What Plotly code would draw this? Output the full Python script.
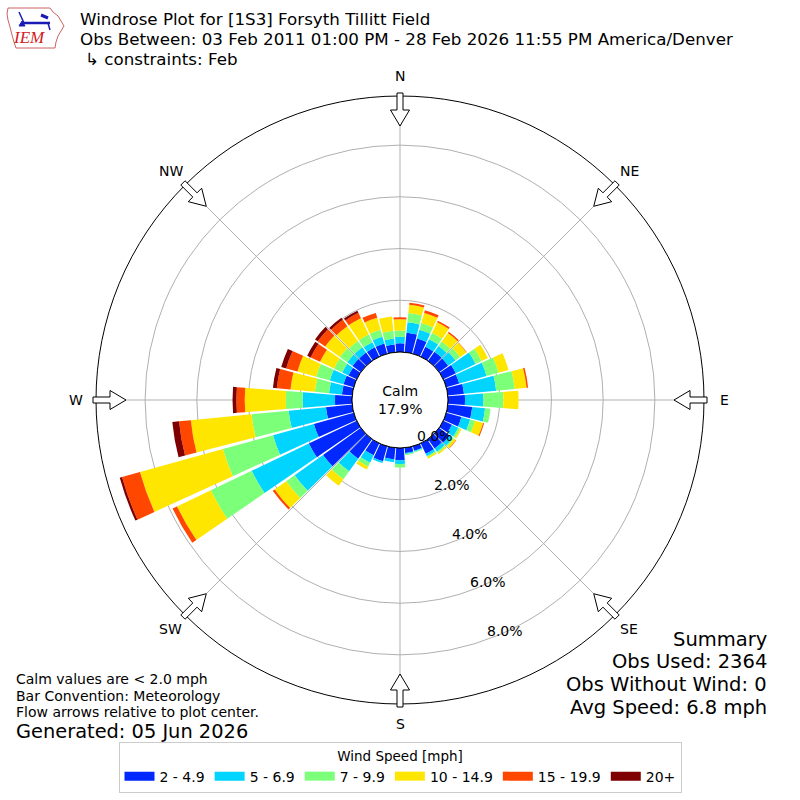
import numpy as np
import plotly.graph_objects as go

# wind direction bins (deg, meteorological convention) and speed classes
directions = list(range(0, 360, 10))
speed_bins = ["2 - 4.9", "5 - 6.9", "7 - 9.9", "10 - 14.9", "15 - 19.9", "20+"]
bin_colors = ["#0028ff", "#00d4ff", "#7cff79", "#ffe600", "#ff4700", "#7f0000"]

# frequency (%) per direction for each speed class
pct_2_5 = [0.34, 0.76, 0.61, 0.42, 0.44, 0.43, 0.54, 0.52, 0.63, 0.66, 0.95, 0.61,
           0.37, 0.50, 0.45, 0.45, 0.18, 0.20, 0.47, 0.45, 0.60, 0.51, 0.93, 1.80,
           2.05, 1.60, 1.02, 0.66, 0.40, 0.41, 0.35, 0.40, 0.40, 0.40, 0.41, 0.30]
pct_5_7 = [0.25, 0.40, 0.35, 0.33, 0.27, 0.35, 0.84, 1.10, 1.25, 0.71, 0.50, 0.35,
           0.27, 0.15, 0.15, 0.10, 0.04, 0.04, 0.15, 0.11, 0.07, 0.32, 0.60, 1.35,
           2.45, 1.64, 1.45, 1.25, 0.50, 0.55, 0.27, 0.25, 0.25, 0.22, 0.27, 0.23]
pct_7_10 = [0.24, 0.36, 0.27, 0.27, 0.21, 0.22, 0.26, 0.48, 0.72, 0.77, 0.21, 0.20,
            0.08, 0.05, 0.06, 0.05, 0.03, 0.04, 0.13, 0.00, 0.00, 0.17, 0.38, 0.40,
            1.75, 2.01, 1.44, 0.65, 0.55, 0.55, 0.35, 0.35, 0.30, 0.33, 0.28, 0.30]
pct_10_15 = [0.44, 0.32, 0.41, 0.46, 0.41, 0.30, 0.27, 0.40, 0.46, 0.59, 0.00, 0.32,
             0.06, 0.10, 0.06, 0.06, 0.00, 0.00, 0.00, 0.00, 0.00, 0.12, 0.31, 0.55,
             1.45, 3.33, 2.36, 1.59, 0.95, 0.75, 0.60, 0.70, 0.70, 0.70, 0.48, 0.56]
pct_15_20 = [0.07, 0.08, 0.11, 0.06, 0.06, 0.02, 0.00, 0.00, 0.06, 0.00, 0.00, 0.04,
             0.00, 0.02, 0.00, 0.00, 0.00, 0.00, 0.00, 0.00, 0.00, 0.00, 0.00, 0.09,
             0.19, 0.72, 0.46, 0.32, 0.53, 0.45, 0.40, 0.35, 0.30, 0.23, 0.20, 0.00]
pct_20_up = [0.00, 0.00, 0.00, 0.00, 0.00, 0.00, 0.00, 0.00, 0.00, 0.00, 0.00, 0.00,
             0.00, 0.00, 0.00, 0.00, 0.00, 0.00, 0.00, 0.00, 0.00, 0.00, 0.00, 0.00,
             0.00, 0.09, 0.26, 0.15, 0.15, 0.20, 0.15, 0.13, 0.10, 0.09, 0.00, 0.00]
series = [pct_2_5, pct_5_7, pct_7_10, pct_10_15, pct_15_20, pct_20_up]

calm_pct = 17.9
ring_ticks = [0, 2, 4, 6, 8]
compass = ["N", "NE", "E", "SE", "S", "SW", "W", "NW"]

# page geometry (px) - polar centre and radii
SIZE = 800
CX, CY = 400, 400
R_OUT = 304
R_CALM = 48
R_MAX = 9.9          # % at the outer circle
LABEL_DIR = 160      # compass bearing of the ring labels
FONT = "DejaVu Sans"


def to_paper(px, py):
    return px / SIZE, 1 - py / SIZE


def poly_path(points):
    pts = [to_paper(x, y) for x, y in points]
    return "M " + " L ".join(f"{x:.5f},{y:.5f}" for x, y in pts) + " Z"


fig = go.Figure()

for name, vals, color in zip(speed_bins, series, bin_colors):
    fig.add_trace(go.Barpolar(r=vals, theta=directions, width=9, name=name,
                              marker=dict(color=color, line=dict(width=0)),
                              showlegend=False, hoverinfo="r+theta"))

# legend proxies so the swatches are wide strips
for name, color in zip(speed_bins, bin_colors):
    fig.add_trace(go.Scatterpolar(r=[None], theta=[None], mode="lines", name=name,
                                  line=dict(color=color, width=9)))

# hollow flow arrows on the compass points
shapes = []
for i, lab in enumerate(compass):
    a = np.deg2rad(i * 45)
    u = np.array([np.sin(a), -np.cos(a)])
    v = np.array([np.cos(a), np.sin(a)])
    outline = [(307, -3), (290, -3), (290, -9.5), (274, 0), (290, 9.5), (290, 3), (307, 3)]
    pts = [np.array([CX, CY]) + al * u + ac * v for al, ac in outline]
    shapes.append(dict(type="path", path=poly_path(pts), xref="paper", yref="paper",
                       line=dict(color="black", width=1), fillcolor="white", layer="above"))

# calm circle
x0, y0 = to_paper(CX - R_CALM, CY + R_CALM)
x1, y1 = to_paper(CX + R_CALM, CY - R_CALM)
shapes.append(dict(type="circle", xref="paper", yref="paper", x0=x0, y0=y0, x1=x1, y1=y1,
                   line=dict(color="black", width=1), fillcolor="white", layer="above"))

# IEM logo (rough Iowa outline + wind symbol)
iowa = [(8, 8), (50, 8), (53, 12), (58, 16), (61, 21), (64, 26), (61, 31), (58, 36),
        (56, 42), (55, 48), (16, 48), (14, 42), (12, 35), (10, 27), (8, 20), (7, 14)]
shapes.append(dict(type="path", xref="paper", yref="paper", path=poly_path(iowa),
                   line=dict(color="#c86464", width=1)))
for (ax0, ay0), (ax1, ay1), w in [((24, 23), (50, 23), 2.5), ((19, 12), (24, 23), 1.5),
                                   ((41, 15), (48, 18), 3), ((48, 23), (50, 30), 1.5)]:
    sx0, sy0 = to_paper(ax0, ay0)
    sx1, sy1 = to_paper(ax1, ay1)
    shapes.append(dict(type="line", xref="paper", yref="paper", x0=sx0, y0=sy0, x1=sx1, y1=sy1,
                       line=dict(color="#1a1ab4", width=w)))
shapes.append(dict(type="path", xref="paper", yref="paper",
                   path=poly_path([(19, 26), (22, 21), (25, 26)]),
                   line=dict(color="#1a1ab4", width=1), fillcolor="#1a1ab4"))

ann = []
# direction labels
for i, lab in enumerate(compass):
    a = np.deg2rad(i * 45)
    x, y = to_paper(CX + 324 * np.sin(a), CY - 324 * np.cos(a))
    ann.append(dict(x=x, y=y, text=lab, showarrow=False, xref="paper", yref="paper",
                    xanchor="center", yanchor="middle", font=dict(size=14, color="black")))

# ring labels placed beside the 160 deg bearing (offset to its east side)
b = np.deg2rad(LABEL_DIR)
d = np.array([np.sin(b), -np.cos(b)])
side = np.array([-np.cos(b), -np.sin(b)])
for v in ring_ticks:
    rpx = R_CALM + v / R_MAX * (R_OUT - R_CALM)
    p = np.array([CX, CY]) + (rpx - 2) * d + 20 * side
    x, y = to_paper(*p)
    ann.append(dict(x=x, y=y, text=f"{v:.1f}%", showarrow=False, xref="paper", yref="paper",
                    xanchor="center", yanchor="middle", font=dict(size=14, color="black")))

ann.append(dict(x=0.5, y=0.5, text=f"Calm<br>{calm_pct:.1f}%", showarrow=False,
                xref="paper", yref="paper", xanchor="center", yanchor="middle",
                font=dict(size=14, color="black")))

title_lines = [
    (79, 19.4, "Windrose Plot for [1S3] Forsyth Tillitt Field"),
    (79, 39.0, "Obs Between: 03 Feb 2011 01:00 PM - 28 Feb 2026 11:55 PM America/Denver"),
    (84, 58.6, "↳ constraints: Feb"),
]
for px, py, t in title_lines:
    x, y = to_paper(px, py)
    ann.append(dict(x=x, y=y, text=t, showarrow=False, xref="paper", yref="paper",
                    xanchor="left", yanchor="middle", borderpad=0,
                    font=dict(size=16.7, color="black")))

x, y = to_paper(29, 38)
ann.append(dict(x=x, y=y, text="<i>IEM</i>", showarrow=False, xref="paper", yref="paper",
                xanchor="center", yanchor="middle",
                font=dict(size=17, color="#d02020", family="Liberation Serif")))

notes = [(679, "Calm values are < 2.0 mph", 14), (695.5, "Bar Convention: Meteorology", 14),
         (712, "Flow arrows relative to plot center.", 14),
         (731.5, "Generated: 05 Jun 2026", 19.4)]
for py, t, fs in notes:
    x, y = to_paper(15, py)
    ann.append(dict(x=x, y=y, text=t, showarrow=False, xref="paper", yref="paper",
                    xanchor="left", yanchor="middle", borderpad=0,
                    font=dict(size=fs, color="black")))

summary = [(639, "Summary"), (661.7, "Obs Used: 2364"), (684.4, "Obs Without Wind: 0"),
           (707.1, "Avg Speed: 6.8 mph")]
for py, t in summary:
    x, y = to_paper(768, py)
    ann.append(dict(x=x, y=y, text=t, showarrow=False, xref="paper", yref="paper",
                    xanchor="right", yanchor="middle", borderpad=0,
                    font=dict(size=19.5, color="black")))

dom_lo = (CX - R_OUT) / SIZE
dom_hi = (CX + R_OUT) / SIZE
fig.update_layout(
    width=SIZE, height=SIZE,
    margin=dict(l=0, r=0, t=0, b=0, autoexpand=False),
    paper_bgcolor="white",
    font=dict(family=FONT, color="black"),
    polar=dict(
        domain=dict(x=[dom_lo, dom_hi], y=[dom_lo, dom_hi]),
        hole=R_CALM / R_OUT,
        bgcolor="rgba(0,0,0,0)",
        barmode="stack",
        radialaxis=dict(range=[0, R_MAX], tickmode="array", tickvals=ring_ticks,
                        showticklabels=False, showline=False, ticks="",
                        gridcolor="#b0b0b0"),
        angularaxis=dict(rotation=90, direction="clockwise", tick0=0, dtick=45,
                         showticklabels=False, ticks="", gridcolor="#b0b0b0",
                         showline=True, linecolor="black", linewidth=1),
    ),
    legend=dict(orientation="h", x=0.5, xanchor="center", y=1 - 742 / SIZE, yanchor="top",
                title=dict(text="Wind Speed [mph]", side="top center", font=dict(size=13.5)),
                font=dict(size=14), bordercolor="#cccccc", borderwidth=1, bgcolor="white"),
    shapes=shapes,
    annotations=ann,
)

fig.write_html("out.html", config={"displayModeBar": False},
               post_script="document.body.style.margin='0';")
